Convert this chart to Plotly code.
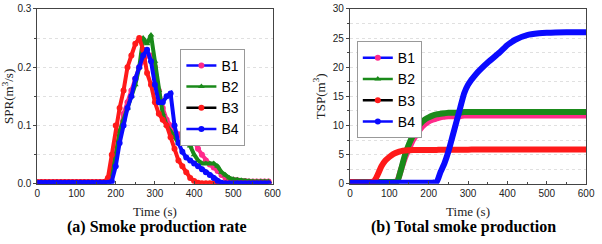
import plotly.graph_objects as go

# ---- SPR data (m^2/s), time step 10 s ----
t_spr = list(range(0, 610, 10))
spr_b1 = [0.003]*18 + [0.006, 0.015, 0.05, 0.09, 0.12, 0.14, 0.16, 0.18, 0.20, 0.21, 0.22, 0.22, 0.20,
          0.16, 0.13, 0.11, 0.10, 0.09, 0.085, 0.08, 0.08, 0.085, 0.075, 0.06, 0.05, 0.04, 0.033, 0.028,
          0.022, 0.015, 0.01, 0.008, 0.007, 0.006, 0.005, 0.005, 0.004, 0.004, 0.004, 0.004, 0.004, 0.004]
spr_b2 = [0.003]*18 + [0.008, 0.02, 0.05, 0.09, 0.11, 0.13, 0.15, 0.17, 0.20, 0.25, 0.24, 0.255, 0.21,
          0.16, 0.12, 0.10, 0.09, 0.08, 0.07, 0.07, 0.07, 0.065, 0.05, 0.04, 0.035, 0.035, 0.035, 0.035,
          0.03, 0.02, 0.015, 0.01, 0.008, 0.007, 0.006, 0.005, 0.005, 0.004, 0.004, 0.004, 0.004, 0.004]
spr_b3 = [0.003]*18 + [0.01, 0.05, 0.10, 0.13, 0.16, 0.20, 0.22, 0.24, 0.25, 0.23, 0.19, 0.17, 0.14,
          0.12, 0.11, 0.10, 0.08, 0.06, 0.04, 0.03, 0.02, 0.01, 0.005, 0.002, 0.001, 0.001, 0.001, 0.001,
          0.001, 0.001, 0.001, 0.001, 0.001, 0.001, 0.001, 0.001, 0.001, 0.001, 0.001, 0.001, 0.001, 0.001]
spr_b4 = [0.002]*18 + [0.002, 0.004, 0.03, 0.07, 0.10, 0.13, 0.15, 0.18, 0.20, 0.22, 0.23, 0.21, 0.17,
          0.14, 0.14, 0.15, 0.155, 0.10, 0.07, 0.055, 0.045, 0.04, 0.035, 0.03, 0.025, 0.02, 0.015, 0.01,
          0.005, 0.002, 0.001, 0.001, 0.001, 0.001, 0.001, 0.001, 0.001, 0.001, 0.001, 0.001, 0.001, 0.001]

# ---- TSP data (m^2) ----
t_tsp = [0, 60, 70, 80, 90, 100, 110, 120, 130, 140, 150, 160, 170, 180, 190, 200, 210, 220, 230, 240,
         250, 260, 270, 280, 290, 300, 320, 350, 380, 400, 420, 450, 480, 500, 550, 600]
tsp_b1 = [0.3, 0.3, 0.3, 0.3, 0.3, 0.3, 0.3, 0.5, 2.5, 4.5, 6.0, 7.5, 8.5, 9.5, 10.2, 10.7, 11.0, 11.2,
          11.4, 11.5, 11.6, 11.6, 11.6, 11.6, 11.7, 11.7, 11.7, 11.7, 11.7, 11.7, 11.7, 11.7, 11.7, 11.7, 11.7, 11.7]
tsp_b2 = [0.3, 0.3, 0.3, 0.3, 0.3, 0.3, 0.3, 0.4, 2.5, 5.0, 6.8, 8.3, 9.5, 10.4, 11.0, 11.4, 11.7, 11.9,
          12.0, 12.1, 12.2, 12.2, 12.2, 12.2, 12.3, 12.3, 12.3, 12.3, 12.3, 12.3, 12.3, 12.3, 12.3, 12.3, 12.3, 12.3]
tsp_b3 = [0.3, 0.4, 1.5, 3.0, 4.0, 4.6, 5.1, 5.4, 5.6, 5.7, 5.75, 5.8, 5.8, 5.8, 5.8, 5.8, 5.8, 5.8,
          5.85, 5.85, 5.85, 5.85, 5.85, 5.85, 5.85, 5.85, 5.9, 5.9, 5.9, 5.9, 5.9, 5.9, 5.9, 5.9, 5.9, 5.9]
tsp_b4 = [0.2, 0.2, 0.2, 0.2, 0.2, 0.2, 0.2, 0.2, 0.2, 0.2, 0.2, 0.2, 0.2, 0.2, 0.2, 0.2, 0.2, 0.3,
          2.0, 3.5, 5.5, 8.0, 10.5, 13.0, 15.5, 17.0, 18.8, 20.8, 22.5, 23.8, 24.7, 25.5, 25.8, 25.9, 26.0, 26.0]

names = ["B1", "B2", "B3", "B4"]
trace_colors = ["#ff2a8a", "#1a8a1a", "#ff1a1a", "#0a0aff"]
legend_line_colors = ["#0a0aff", "#1a8a1a", "#000000", "#0a0aff"]
marker_symbols = ["circle", "triangle-up", "circle", "circle"]

fig = go.Figure()

spr_series = [spr_b1, spr_b2, spr_b3, spr_b4]
tsp_series = [tsp_b1, tsp_b2, tsp_b3, tsp_b4]

# left plot data traces (draw order: B1, B2, B3, B4)
for name, ys, c, sym in zip(names, spr_series, trace_colors, marker_symbols):
    fig.add_trace(go.Scatter(x=t_spr, y=ys, mode="lines+markers", name=name,
                             line=dict(color=c, width=4),
                             marker=dict(color=c, size=6, symbol=sym),
                             showlegend=False, xaxis="x", yaxis="y"))
# right plot data traces
for name, ys, c in zip(names, tsp_series, trace_colors):
    fig.add_trace(go.Scatter(x=t_tsp, y=ys, mode="lines", name=name,
                             line=dict(color=c, width=6, shape="spline", smoothing=0.6),
                             showlegend=False, xaxis="x2", yaxis="y2"))

# legend-only entries
for lg in ["legend", "legend2"]:
    for name, lc, mc, sym in zip(names, legend_line_colors, trace_colors, marker_symbols):
        fig.add_trace(go.Scatter(x=[None], y=[None], mode="lines+markers", name=name,
                                 line=dict(color=lc, width=2.5),
                                 marker=dict(color=mc, size=6, symbol=sym),
                                 legend=lg, xaxis="x", yaxis="y"))

W, H = 602, 244
tickfont = dict(family="Liberation Sans, Arial", size=10, color="#222")
titlefont = dict(family="Liberation Serif, Times New Roman", size=13, color="#222")
grid = dict(showgrid=True, gridcolor="#e0e0e0", griddash="dot", gridwidth=1)

def xax(domain, anchor):
    return dict(domain=domain, anchor=anchor, range=[0, 600], dtick=100, tick0=0,
                showline=True, linecolor="#444", linewidth=1, mirror=True,
                ticks="inside", ticklen=3, tickcolor="#444", ticklabeloverflow="allow",
                minor=dict(dtick=50, ticks="inside", ticklen=2, tickcolor="#444"),
                showgrid=False, zeroline=False, tickfont=tickfont,
                title=dict(text="Time (s)", font=titlefont, standoff=9))

def yax(domain, anchor, rng, dt, title, fmt):
    return dict(domain=domain, anchor=anchor, range=rng, dtick=dt, tick0=0, tickformat=fmt,
                showline=True, linecolor="#444", linewidth=1, mirror=True,
                ticks="outside", ticklen=3, tickcolor="#444", ticklabeloverflow="allow",
                minor=dict(dtick=dt/2, ticks="outside", ticklen=2, tickcolor="#444",
                           showgrid=True, gridcolor="#e0e0e0", griddash="dot"),
                zeroline=False, tickfont=tickfont,
                title=dict(text=title, font=titlefont, standoff=4), **grid)

ydom = [1 - 187/H, 1 - 3/H]
legend_font = dict(family="Liberation Sans, Arial", size=14, color="#000")
fig.update_layout(
    width=W, height=H, margin=dict(l=0, r=0, t=0, b=0),
    paper_bgcolor="white", plot_bgcolor="white",
    xaxis=xax([35/W, 275/W], "y"),
    yaxis=yax(ydom, "x", [0, 0.3], 0.1, "SPR(m<sup>3</sup>/s)", ".1f"),
    xaxis2=xax([354/W, 595/W], "y2"),
    yaxis2=yax(ydom, "x2", [0, 30], 5, "TSP(m<sup>3</sup>)", "d"),
    legend=dict(x=181/W, y=1 - 45/H, xanchor="left", yanchor="top",
                bgcolor="white", bordercolor="#999", borderwidth=1,
                font=legend_font, tracegroupgap=0, itemwidth=30),
    legend2=dict(x=361/W, y=1 - 37/H, xanchor="left", yanchor="top",
                 bgcolor="white", bordercolor="#999", borderwidth=1,
                 font=legend_font, tracegroupgap=0, itemwidth=30),
    annotations=[
        dict(text="<b>(a) Smoke production rate</b>", x=157/W, y=1 - 232/H, xref="paper", yref="paper",
             showarrow=False, xanchor="center", yanchor="middle",
             font=dict(family="Liberation Serif, Times New Roman", size=16, color="#000")),
        dict(text="<b>(b) Total smoke production</b>", x=470/W, y=1 - 232/H, xref="paper", yref="paper",
             showarrow=False, xanchor="center", yanchor="middle",
             font=dict(family="Liberation Serif, Times New Roman", size=16, color="#000")),
    ],
)

fig.write_html("out.html", config={"displayModeBar": False},
               post_script="document.body.style.margin='0';document.body.style.padding='0';")
